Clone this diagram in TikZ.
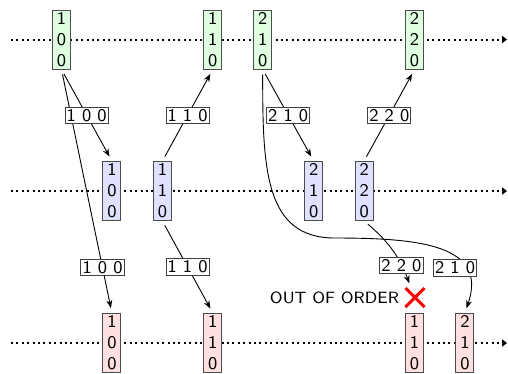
\documentclass[tikz,border=0pt]{standalone}
\usetikzlibrary{arrows.meta,shapes.misc}
\definecolor{sentfill}{HTML}{E0FFE0}
\definecolor{relayfill}{HTML}{E0E0FF}
\definecolor{recvfill}{HTML}{FFE0E0}
\begin{document}
\begin{tikzpicture}[x=0.5bp,y=-0.5bp,
  evt/.style={rectangle, draw=black!70, line width=0.5bp, inner sep=0pt,
    minimum width=9bp, minimum height=29.5bp, align=center,
    font=\sffamily\fontsize{9}{10.5}\selectfont},
  sent/.style={evt, fill=sentfill},
  relay/.style={evt, fill=relayfill},
  recv/.style={evt, fill=recvfill},
  msg/.style={rectangle, draw=black!75, fill=white, line width=0.5bp,
    inner xsep=0.8bp, inner ysep=1.1bp, text height=5.85bp, text depth=0pt,
    font=\sffamily\fontsize{9}{10}\selectfont},
  link/.style={line width=0.45bp, shorten <=2.5bp, shorten >=2.5bp,
    -{Stealth[length=4bp,width=3bp]}},
  timeline/.style={line width=1bp, dash pattern=on 1bp off 1.7bp,
    -{Triangle[length=2.5bp,width=3.6bp]}}
]
\useasboundingbox (0,0) rectangle (508,373);

% process timelines
\coordinate (t1s) at (11,39.5);  \coordinate (t1e) at (507,39.5);
\coordinate (t2s) at (11,191);   \coordinate (t2e) at (507,191);
\coordinate (t3s) at (11,343);   \coordinate (t3e) at (507,343);
\draw[timeline] (t1s) -- (t1e);
\draw[timeline] (t2s) -- (t2e);
\draw[timeline] (t3s) -- (t3e);

% events, top process
\node[sent] (g100) at (61.5,39.5) {1\\0\\0};
\node[sent] (g110) at (212.8,39.5) {1\\1\\0};
\node[sent] (g210) at (262.7,39.5) {2\\1\\0};
\node[sent] (g220) at (414.5,39.5) {2\\2\\0};

% events, middle process
\node[relay] (b100) at (111.9,191) {1\\0\\0};
\node[relay] (b110) at (162.4,191) {1\\1\\0};
\node[relay] (b210) at (313.7,191) {2\\1\\0};
\node[relay] (b220) at (364.1,191) {2\\2\\0};

% events, bottom process
\node[recv] (p100) at (111.9,343) {1\\0\\0};
\node[recv] (p110) at (212.8,343) {1\\1\\0};
\node[recv] (p110b) at (414.5,343) {1\\1\\0};
\node[recv] (p210) at (464.9,343) {2\\1\\0};

% rejected delivery
\node[cross out, draw=red, line width=1.5bp, minimum size=8bp, inner sep=0pt]
  (xmark) at (415,297.5) {};
\node[anchor=east, inner sep=0pt, font=\sffamily\fontsize{8.2}{9.6}\selectfont]
  (ooo) at ([xshift=-3bp]xmark.west) {OUT OF ORDER};

% messages
\draw[link] (g100.south) -- node[msg, pos=0.814] (m1) {1 0 0} (p100.north);
\draw[link] (g100.south) -- node[msg] (m2) {1 0 0} (b100.north);
\draw[link] (b110.north) -- node[msg] (m3) {1 1 0} (g110.south);
\draw[link] (b110.south) -- node[msg] (m4) {1 1 0} (p110.north);
\draw[link] (g210.south) -- node[msg] (m5) {2 1 0} (b210.north);
\draw[link] (b220.north) -- node[msg] (m6) {2 2 0} (g220.south);
\draw[link] (b220.south) to[bend left=15]
  node[msg, pos=0.72] (m7) {2 2 0} ([xshift=-2bp]xmark.north);
\draw[link] (g210.south) .. controls (262.5,170) and (265,238) .. (335,238)
  .. controls (420,238) and (488,245) .. (p210.north);
\node[msg] (m8) at (455,268) {2 1 0};
\end{tikzpicture}
\end{document}
